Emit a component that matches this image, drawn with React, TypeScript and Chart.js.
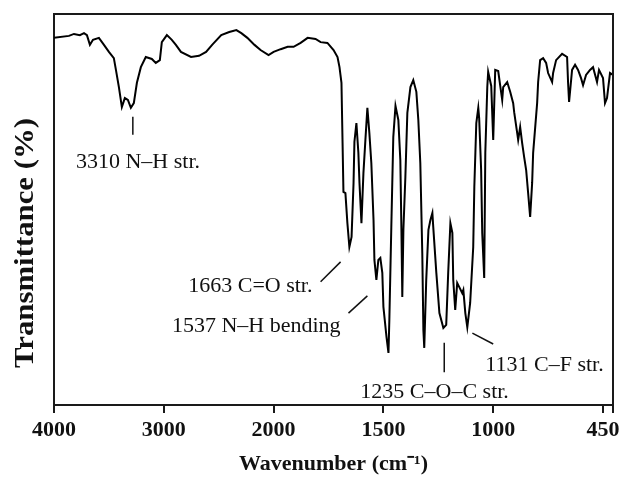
import React, { useEffect, useRef } from 'react';
import { Chart, registerables } from 'chart.js';

Chart.register(...registerables);

// Spectrum (wavenumber in cm-1, transmittance in arbitrary %)
const WAVENUMBERS = [
  4000, 3864, 3818, 3764, 3727, 3700, 3673, 3645, 3591, 3545,
  3500, 3455, 3436, 3409, 3382, 3355, 3327, 3300, 3273, 3245,
  3209, 3164, 3109, 3073, 3036, 3018, 2972, 2927, 2890, 2844,
  2752, 2679, 2615, 2560, 2477, 2404, 2339, 2294, 2239, 2174,
  2119, 2046, 2000, 1968, 1936, 1909, 1877, 1845, 1809, 1786,
  1755, 1727, 1709, 1700, 1691, 1686, 1682, 1673, 1664, 1655,
  1645, 1636, 1632, 1623, 1614, 1609, 1600, 1591, 1582, 1573,
  1564, 1555, 1545, 1541, 1532, 1523, 1514, 1505, 1500, 1486,
  1477, 1473, 1464, 1455, 1445, 1432, 1423, 1418, 1414, 1409,
  1400, 1391, 1377, 1364, 1350, 1341, 1332, 1323, 1318, 1314,
  1305, 1295, 1286, 1277, 1273, 1259, 1245, 1227, 1214, 1205,
  1195, 1186, 1182, 1173, 1164, 1155, 1141, 1136, 1127, 1118,
  1105, 1091, 1086, 1077, 1068, 1064, 1055, 1050, 1041, 1036,
  1027, 1023, 1009, 1000, 990, 975, 955, 950, 930, 915,
  900, 895, 880, 875, 865, 855, 845, 835, 825, 815,
  805, 800, 780, 775, 765, 750, 735, 725, 705, 700,
  685, 655, 630, 625, 620, 605, 590, 575, 560, 550,
  535, 515, 500, 480, 470, 450, 440, 430, 415, 400,
];

const TRANSMITTANCE = [
  93.9, 94.4, 94.9, 94.6, 95.1, 94.6, 92.1, 93.4, 93.9, 92.1,
  90.3, 88.7, 85.7, 81.3, 76.2, 78.5, 78.0, 76.0, 77.2, 82.4,
  86.4, 89.0, 88.5, 87.5, 88.2, 92.8, 94.6, 93.4, 92.1, 90.3,
  89.0, 89.3, 90.3, 92.1, 94.6, 95.4, 95.9, 95.1, 93.9, 92.1,
  90.8, 89.5, 90.3, 91.0, 91.6, 91.6, 92.6, 93.9, 93.6, 92.8,
  92.6, 90.8, 89.0, 86.4, 82.4, 67.0, 54.5, 54.2, 46.5, 40.4,
  43.0, 56.8, 67.3, 72.1, 64.5, 56.8, 46.5, 59.3, 67.8, 76.0,
  69.6, 61.9, 47.3, 37.1, 32.0, 37.1, 37.6, 33.8, 25.1, 17.4,
  13.3, 21.7, 45.5, 68.5, 76.5, 72.9, 62.7, 44.8, 27.6, 44.8,
  58.3, 74.7, 81.3, 83.1, 80.1, 72.9, 61.9, 38.9, 19.2, 14.6,
  32.0, 44.8, 47.3, 49.1, 45.5, 33.8, 23.5, 19.7, 20.5, 33.8,
  46.5, 44.0, 32.0, 24.3, 31.2, 30.2, 28.6, 29.4, 23.5, 19.9,
  26.1, 40.4, 55.8, 72.1, 76.0, 73.4, 60.1, 44.0, 32.5, 64.5,
  81.3, 85.2, 81.6, 67.8, 85.7, 85.4, 78.0, 81.3, 82.6, 80.1,
  77.2, 74.9, 69.6, 67.8, 71.1, 67.0, 63.4, 60.1, 54.2, 48.1,
  56.8, 64.5, 77.2, 82.6, 88.2, 88.7, 87.5, 84.9, 82.6, 84.9,
  88.2, 89.8, 89.0, 82.4, 77.5, 85.7, 87.0, 85.7, 83.6, 81.8,
  84.4, 85.7, 86.4, 82.6, 85.7, 83.6, 77.2, 78.5, 84.9, 84.4,
];

// Axis break points (each segment gets equal width on the axis)
const AXIS_BREAKS = [4000, 3000, 2000, 1500, 1000, 450];
const TICK_WAVENUMBERS = [4000, 3000, 2000, 1500, 1000, 450, 400];
const TICK_LABELS = ['4000', '3000', '2000', '1500', '1000', '450', ''];
const X_TITLE = 'Wavenumber (cm\u207B\u00B9)';
const Y_TITLE = 'Transmittance (%)';

// Band annotations (in data units: wavenumber, transmittance)
const ANNOTATION_TEXTS = ['3310 N\u2013H str.', '1663 C=O str.', '1537 N\u2013H bending', '1235 C\u2013O\u2013C str.', '1131 C\u2013F str.'];
const ANNOTATION_LINES = [
  [[3282, 73.7], [3282, 69.1]],
  [[1786, 31.5], [1695, 36.6]],
  [[1659, 23.5], [1573, 27.9]],
  [[1223, 15.9], [1223, 8.4]],
  [[1095, 18.4], [1000, 15.6]],
];
const ANNOTATION_ANCHORS = [
  [3800, 62.1],
  [1823, 30.4],
  [1695, 20.2],
  [1605, 3.3],
  [1036, 10.2],
];
const ANNOTATION_ALIGN: CanvasTextAlign[] = ['left', 'right', 'right', 'left', 'left'];

const FONT_FAMILY = "'Liberation Serif', 'Times New Roman', serif";

function wnToPos(wn: number): number {
  for (let i = 0; i < AXIS_BREAKS.length - 1; i++) {
    const a = AXIS_BREAKS[i];
    const b = AXIS_BREAKS[i + 1];
    if (wn >= b) return i + (a - wn) / (a - b);
  }
  const n = AXIS_BREAKS.length;
  const a = AXIS_BREAKS[n - 2];
  const b = AXIS_BREAKS[n - 1];
  return n - 1 + (b - wn) / (a - b);
}

const framePlugin = {
  id: 'frame',
  afterDraw(chart: any) {
    const { ctx, chartArea } = chart;
    ctx.save();
    ctx.strokeStyle = '#1a1a1a';
    ctx.lineWidth = 2;
    ctx.beginPath();
    ctx.moveTo(chartArea.left, chartArea.top);
    ctx.lineTo(chartArea.right, chartArea.top);
    ctx.lineTo(chartArea.right, chartArea.bottom);
    ctx.stroke();
    ctx.restore();
  },
};

const annotationPlugin = {
  id: 'bandLabels',
  afterDatasetsDraw(chart: any) {
    const { ctx, scales } = chart;
    const xs = scales.x;
    const ys = scales.y;
    ctx.save();
    ctx.strokeStyle = '#111';
    ctx.fillStyle = '#111';
    ctx.lineWidth = 1.5;
    ctx.font = `22px ${FONT_FAMILY}`;
    ctx.textBaseline = 'middle';
    ANNOTATION_TEXTS.forEach((text, i) => {
      const [p1, p2] = ANNOTATION_LINES[i];
      ctx.beginPath();
      ctx.moveTo(xs.getPixelForValue(wnToPos(p1[0])), ys.getPixelForValue(p1[1]));
      ctx.lineTo(xs.getPixelForValue(wnToPos(p2[0])), ys.getPixelForValue(p2[1]));
      ctx.stroke();
      const [aw, at] = ANNOTATION_ANCHORS[i];
      ctx.textAlign = ANNOTATION_ALIGN[i];
      ctx.fillText(text, xs.getPixelForValue(wnToPos(aw)), ys.getPixelForValue(at));
    });
    ctx.restore();
  },
};

const yTitlePlugin = {
  id: 'yTitle',
  afterDraw(chart: any) {
    const { ctx } = chart;
    ctx.save();
    ctx.translate(26, 243);
    ctx.rotate(-Math.PI / 2);
    ctx.scale(1.14, 1);
    ctx.font = `bold 27px ${FONT_FAMILY}`;
    ctx.fillStyle = '#111';
    ctx.textAlign = 'center';
    ctx.textBaseline = 'middle';
    ctx.fillText(Y_TITLE, 0, 0);
    ctx.restore();
  },
};

export default function App() {
  const canvasRef = useRef<HTMLCanvasElement | null>(null);

  useEffect(() => {
    if (!canvasRef.current) return;
    const points = WAVENUMBERS.map((wn, i) => ({ x: wnToPos(wn), y: TRANSMITTANCE[i] }));
    const chart = new Chart(canvasRef.current, {
      type: 'line',
      data: {
        datasets: [
          {
            data: points,
            borderColor: '#000',
            borderWidth: 2,
            pointRadius: 0,
            tension: 0,
            fill: false,
          },
        ],
      },
      options: {
        animation: false,
        responsive: false,
        devicePixelRatio: 1,
        layout: { padding: { left: 0, right: 6, top: 14, bottom: 0 } },
        plugins: {
          legend: { display: false },
          tooltip: { enabled: false },
        },
        scales: {
          x: {
            type: 'linear',
            min: wnToPos(4000),
            max: wnToPos(400),
            afterBuildTicks: (scale: any) => {
              scale.ticks = TICK_WAVENUMBERS.map((w) => ({ value: wnToPos(w) }));
            },
            afterFit: (scale: any) => {
              scale.height = 74;
            },
            ticks: {
              autoSkip: false,
              maxRotation: 0,
              padding: 4,
              color: '#111',
              font: { family: FONT_FAMILY, size: 22, weight: 'bold' },
              callback: (_v: any, index: number) => TICK_LABELS[index],
            },
            grid: {
              display: true,
              drawOnChartArea: false,
              drawTicks: true,
              tickLength: 8,
              color: '#1a1a1a',
              lineWidth: 2,
            },
            border: { display: true, color: '#1a1a1a', width: 2 },
            title: {
              display: true,
              text: X_TITLE,
              color: '#111',
              font: { family: FONT_FAMILY, size: 22, weight: 'bold' },
              padding: { top: 0, bottom: 1 },
            },
          },
          y: {
            type: 'linear',
            min: 0,
            max: 100,
            afterFit: (scale: any) => {
              scale.width = 54;
            },
            ticks: { display: false },
            grid: { display: false },
            border: { display: true, color: '#1a1a1a', width: 2 },
          },
        },
      } as any,
      plugins: [framePlugin, annotationPlugin, yTitlePlugin],
    });
    return () => chart.destroy();
  }, []);

  return (
    <div style={{ position: 'fixed', left: 0, top: 0, width: 619, height: 479, background: '#fff' }}>
      <canvas ref={canvasRef} width={619} height={479} style={{ display: 'block' }} />
    </div>
  );
}
